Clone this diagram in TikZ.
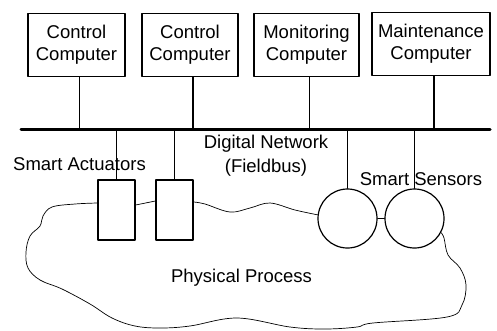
\documentclass[tikz,border=0pt]{standalone}
\usepackage{fontspec}
\setmainfont{Liberation Sans}

\begin{document}
\begin{tikzpicture}[x=1pt,y=-1pt,line cap=round,line join=round,font=\fontsize{18.5}{22}\selectfont,
  comp/.style={draw,line width=1.1pt,align=center,minimum height=63pt,inner sep=0pt},
  act/.style={draw,line width=1.2pt,minimum width=37pt,minimum height=60pt,inner sep=0pt},
  sens/.style={draw,circle,line width=1.2pt,minimum size=59pt,inner sep=0pt},
  link/.style={line width=1.1pt}, cloud/.style={line width=0.7pt}]
  \useasboundingbox (0,0) rectangle (497,330);
  \node[comp,minimum width=97pt] (cc1) at (76.5,45) {Control\\Computer}; \node[comp,minimum width=96pt] (cc2) at (190,45) {Control\\Computer};
  \node[comp,minimum width=105pt] (mon) at (306.5,45) {Monitoring\\Computer}; \node[comp,minimum width=118pt] (mnt) at (431,44) {Maintenance\\Computer};
  \node[act] (act1) at (116.5,210) {}; \node[act] (act2) at (174.5,210) {};
  \node[sens] (sen1) at (347.5,218.5) {}; \node[sens] (sen2) at (414.5,218.5) {};
  \coordinate (busL) at (21,129); \coordinate (busR) at (490,129);
  \draw[line width=3pt] (busL) -- (busR);
  \foreach \n in {cc1,cc2,mon,mnt} \draw[link] ([xshift=3pt]\n.south) -- ([xshift=3pt]\n.south |- busL);
  \foreach \n in {act1,act2,sen1,sen2} \draw[link] (\n.north |- busL) -- (\n.north);
  \node (lblact) at (79.5,164) {Smart Actuators};
  \node[align=center] (lblnet) at (266,156) {Digital Network\\[2pt](Fieldbus)};
  \node (lblsen) at (421,179) {Smart Sensors};
  \node (lblproc) at (241.5,278) {Physical Process};
  \draw[cloud] ([yshift=5pt]act1.east) -- ([yshift=9pt]act2.west);
  \draw[cloud] plot[smooth,tension=0.6] coordinates {([yshift=8pt]act2.east) (205,204) (230,212) (250,208) (270,203) (295,210) (sen1.173)};
  \draw[cloud] (sen1.east) -- (sen2.west);
  \draw[cloud] plot[smooth,tension=0.6] coordinates {([yshift=7pt]act1.west) (75,204) (52,207) (43,216) (40,226) (30,236) (26,252) (28,268) (40,280) (62,289) (90,304) (112,318) (135,326) (160,328) (190,326) (237,318) (290,327) (325,329) (357,327) (373,323) (447,317) (462,305) (466,285) (460,268) (448,255) (444,238) (sen2.-28)};
\end{tikzpicture}
\end{document}
